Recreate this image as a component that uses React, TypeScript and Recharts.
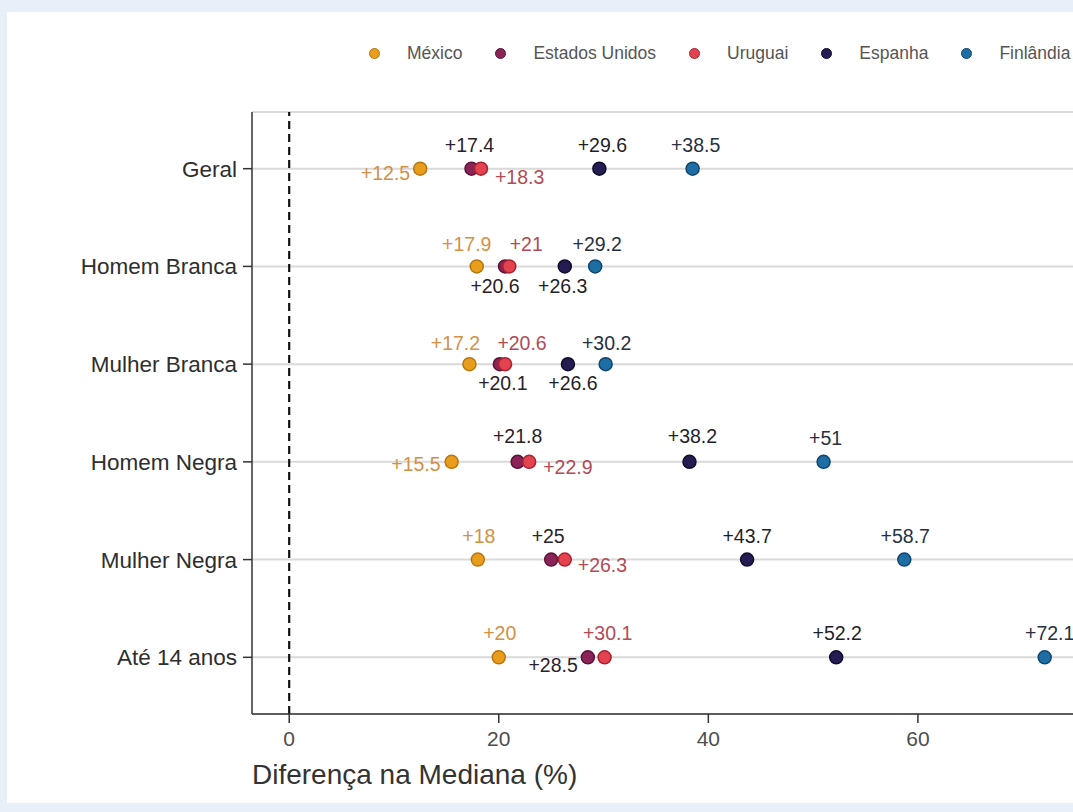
import React from "react";
import {
  CartesianGrid,
  ReferenceLine,
  Scatter,
  ScatterChart,
  XAxis,
  YAxis,
} from "recharts";

const categorias = [
  "Geral",
  "Homem Branca",
  "Mulher Branca",
  "Homem Negra",
  "Mulher Negra",
  "Até 14 anos",
];
const mexico = [12.5, 17.9, 17.2, 15.5, 18, 20];
const estadosUnidos = [17.4, 20.6, 20.1, 21.8, 25, 28.5];
const uruguai = [18.3, 21, 20.6, 22.9, 26.3, 30.1];
const espanha = [29.6, 26.3, 26.6, 38.2, 43.7, 52.2];
const finlandia = [38.5, 29.2, 30.2, 51, 58.7, 72.1];
const xTicks = [0, 20, 40, 60];

// posição dos rótulos (tipo ggrepel): [âncora, dx, dy]
type Pos = [string, number, number];
const posMexico: Pos[] = [
  ["end", -10, 4],
  ["middle", -10, -22],
  ["middle", -14, -21],
  ["end", -11, 2],
  ["middle", 1, -24],
  ["middle", 1, -24],
];
const posEstadosUnidos: Pos[] = [
  ["middle", -2, -24],
  ["middle", -10, 20],
  ["middle", 3, 19],
  ["middle", 0, -26],
  ["middle", -3, -24],
  ["end", -10, 8],
];
const posUruguai: Pos[] = [
  ["start", 14, 8],
  ["middle", 17, -22],
  ["middle", 17, -21],
  ["start", 14, 5],
  ["start", 13, 5],
  ["middle", 3, -24],
];
const posEspanha: Pos[] = [
  ["middle", 3, -24],
  ["middle", -2, 20],
  ["middle", 5, 19],
  ["middle", 3, -26],
  ["middle", 0, -24],
  ["middle", 1, -24],
];
const posFinlandia: Pos[] = [
  ["middle", 3, -24],
  ["middle", 2, -22],
  ["middle", 1, -21],
  ["middle", 2, -24],
  ["middle", 1, -24],
  ["middle", 5, -24],
];

const series = [
  { nome: "México", valores: mexico, pos: posMexico, cor: "#e89e1c", borda: "#b8760a", texto: "#d49046" },
  { nome: "Estados Unidos", valores: estadosUnidos, pos: posEstadosUnidos, cor: "#8a2457", borda: "#5c1238", texto: "#2b2229" },
  { nome: "Uruguai", valores: uruguai, pos: posUruguai, cor: "#e3424f", borda: "#a8222f", texto: "#b24b55" },
  { nome: "Espanha", valores: espanha, pos: posEspanha, cor: "#241d52", borda: "#100c2c", texto: "#1f1f2a" },
  { nome: "Finlândia", valores: finlandia, pos: posFinlandia, cor: "#1e6ea3", borda: "#0f4670", texto: "#27313f" },
];

const FONTE = "'Liberation Sans', Arial, Helvetica, sans-serif";

function Ponto(props: any) {
  const { cx, cy, payload, fill, stroke, textColor } = props;
  const [anchor, dx, dy] = payload.pos as Pos;
  return (
    <g>
      <circle cx={cx} cy={cy} r={6.5} fill={fill} stroke={stroke} strokeWidth={1.5} />
      <text
        x={cx + dx}
        y={cy + dy}
        textAnchor={anchor}
        dominantBaseline="central"
        fontSize={19.5}
        fontFamily={FONTE}
        fill={textColor}
      >
        {`+${payload.valor}`}
      </text>
    </g>
  );
}

function Legenda() {
  return (
    <div
      style={{
        position: "absolute",
        top: 42,
        left: 0,
        height: 22,
        display: "flex",
        alignItems: "center",
        paddingLeft: 369,
        fontFamily: FONTE,
        fontSize: 17.5,
        color: "#555",
        whiteSpace: "nowrap",
      }}
    >
      {series.map((s) => (
        <div key={s.nome} style={{ display: "flex", alignItems: "center", marginRight: 33 }}>
          <span
            style={{
              width: 9,
              height: 9,
              borderRadius: "50%",
              background: s.cor,
              border: `1px solid ${s.borda}`,
              marginRight: 27,
            }}
          />
          <span>{s.nome}</span>
        </div>
      ))}
    </div>
  );
}

export default function App() {
  return (
    <div
      style={{
        position: "fixed",
        top: 0,
        left: 0,
        width: 1073,
        height: 812,
        overflow: "hidden",
        background: "#e9eff8",
      }}
    >
      <div
        style={{
          position: "absolute",
          left: 7,
          top: 12,
          right: 0,
          bottom: 9,
          background: "#ffffff",
        }}
      />
      <Legenda />
      <div style={{ position: "absolute", left: 0, top: 0 }}>
        <ScatterChart
          width={1073}
          height={812}
          margin={{ top: 112, right: 0, bottom: 0, left: 0 }}
        >
          <CartesianGrid horizontal vertical={false} stroke="#d9d9d9" strokeWidth={2} />
          <XAxis
            type="number"
            dataKey="valor"
            domain={[-3.55, 74.8]}
            ticks={xTicks}
            allowDataOverflow
            height={98}
            stroke="#333"
            strokeWidth={1.5}
            tickSize={9}
            tickMargin={8}
            tick={{ fontSize: 21, fill: "#4d4d4d", fontFamily: FONTE }}
            label={{
              content: (p: any) => (
                <text
                  x={p.viewBox.x}
                  y={p.viewBox.y + 70}
                  fontSize={28}
                  fontFamily={FONTE}
                  fill="#333"
                >
                  Diferença na Mediana (%)
                </text>
              ),
            }}
          />
          <YAxis
            type="number"
            dataKey="linha"
            domain={[0.42, 6.58]}
            ticks={[1, 2, 3, 4, 5, 6]}
            reversed
            allowDataOverflow
            width={252}
            stroke="#333"
            strokeWidth={1.5}
            tickSize={9}
            tickMargin={6}
            tickFormatter={(v: number) => categorias[v - 1] ?? ""}
            tick={{ fontSize: 22.5, fill: "#2e2e2e", fontFamily: FONTE }}
          />
          <ReferenceLine x={0} stroke="#111" strokeWidth={2.2} strokeDasharray="8 5" />
          {series.map((s) => (
            <Scatter
              key={s.nome}
              name={s.nome}
              data={categorias.map((c, i) => ({
                categoria: c,
                linha: i + 1,
                valor: s.valores[i],
                pos: s.pos[i],
              }))}
              fill={s.cor}
              isAnimationActive={false}
              shape={(p: any) => (
                <Ponto {...p} fill={s.cor} stroke={s.borda} textColor={s.texto} />
              )}
            />
          ))}
        </ScatterChart>
      </div>
    </div>
  );
}
